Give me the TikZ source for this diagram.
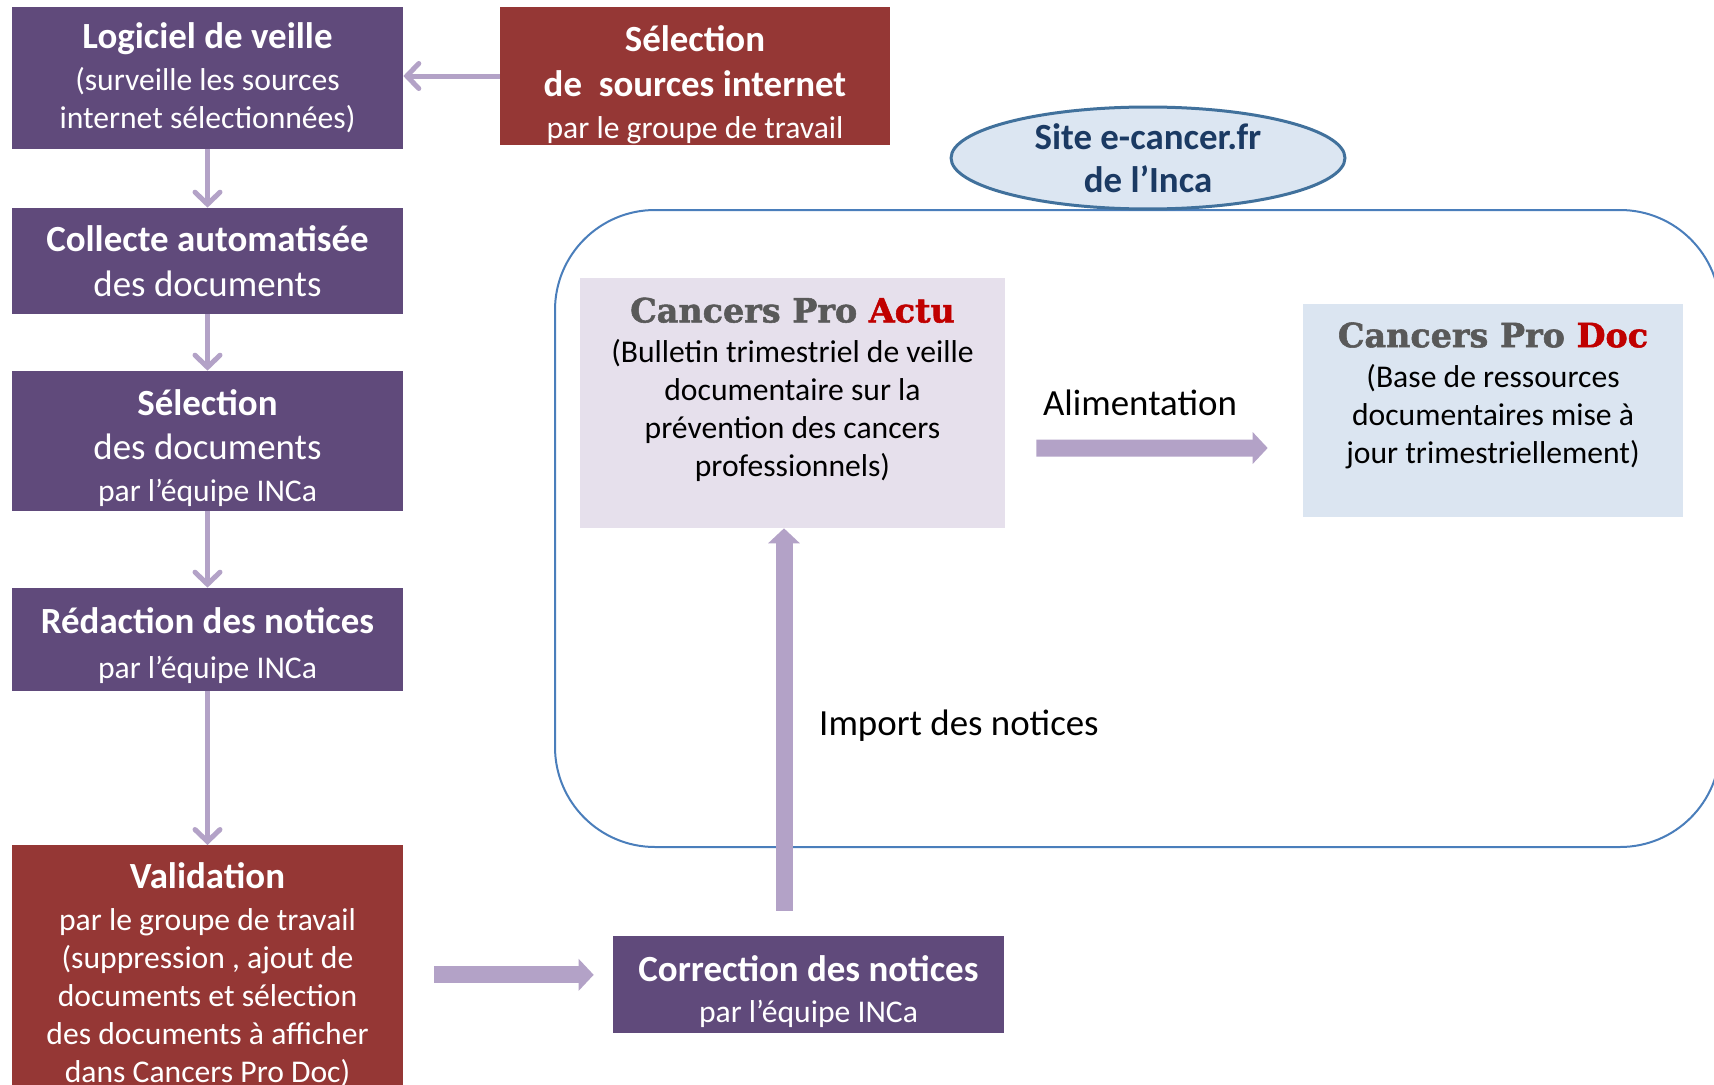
\documentclass[tikz,border=0pt]{standalone}
\usepackage{fontspec}
\setmainfont{Carlito}
\newfontfamily\slabfont{DejaVu Serif}[BoldFeatures={FakeBold=1.6}]
\usetikzlibrary{arrows.meta,shapes.geometric}

\definecolor{boxpurple}{HTML}{604A7B}
\definecolor{boxred}{HTML}{953735}
\definecolor{arrowlilac}{HTML}{B3A2C7}
\definecolor{actufill}{HTML}{E6E0EC}
\definecolor{docfill}{HTML}{DBE5F1}
\definecolor{ellipsefill}{HTML}{DCE6F2}
\definecolor{ellipseline}{HTML}{41719C}
\definecolor{frameline}{HTML}{4A7EBB}
\definecolor{sitetext}{HTML}{1B3A63}
\definecolor{progray}{HTML}{595959}
\definecolor{prored}{HTML}{C00000}

\newcommand{\titlesize}{\fontsize{21}{25.5}\selectfont}
\newcommand{\notesize}{\fontsize{18}{21.6}\selectfont}
\newcommand{\cancerspro}[1]{{\slabfont\bfseries\fontsize{19}{23}\selectfont\color{progray}Cancers Pro \color{prored}#1}}

\begin{document}
\begin{tikzpicture}[x=0.02cm, y=-0.02cm,
    flowbox/.style={fill=boxpurple, text=white, align=center, inner sep=0pt,
      minimum width=7.82cm, font=\notesize},
    redbox/.style={flowbox, fill=boxred},
    boxtext/.style={text=white, align=center, font=\notesize, inner sep=0pt},
    paperbox/.style={inner sep=0pt},
    paperText/.style={align=center, font=\notesize, inner sep=0pt},
    thinarrow/.style={draw=arrowlilac, line width=0.1cm,
      -{Straight Barb[width=0.5cm, length=0.24cm, line cap=round]}},
    widearrow/.style={draw=arrowlilac, line width=0.34cm,
      -{Triangle[width=0.62cm, length=0.3cm]}}]
  \fill[white] (0,0) rectangle (1714,1085);
  \useasboundingbox (0,0) rectangle (1714,1085);

  % Site frame
  \draw[draw=frameline, line width=0.04cm, rounded corners=2cm] (555,210) rectangle (1720,847);
  \node[ellipse, draw=ellipseline, line width=0.06cm, fill=ellipsefill, minimum width=7.88cm,
    minimum height=2.04cm, inner sep=0pt, text=sitetext, align=center,
    font=\titlesize\bfseries] (site) at (1148,158) {Site e-cancer.fr\\[-1pt] de l’Inca};

  % Left column
  \node[flowbox, minimum height=2.84cm] (logiciel) at (207.5,78)
    {{\titlesize\bfseries Logiciel de veille}\\[2.2pt] (surveille les sources\\ internet sélectionnées)};
  \node[redbox, minimum width=7.8cm, minimum height=2.76cm] (selsrc) at (695,76) {};
  \node[boxtext] (selsrctext) at ([shift={(0,9)}]selsrc.center)
    {{\titlesize\bfseries Sélection}\\[3.9pt] {\titlesize\bfseries de~~sources internet}\\[2.2pt] par le groupe de travail};
  \node[flowbox, minimum height=2.12cm] (collecte) at (207.5,261)
    {{\titlesize\bfseries Collecte automatisée}\\[3.9pt] {\titlesize des documents}};
  \node[flowbox, minimum height=2.8cm] (seldoc) at (207.5,441) {};
  \node[boxtext] (seldoctext) at ([shift={(0,7)}]seldoc.center)
    {{\titlesize\bfseries Sélection}\\[3.9pt] {\titlesize des documents}\\[2.2pt] par l’équipe INCa};
  \node[flowbox, minimum height=2.06cm] (redaction) at (207.5,639.5) {};
  \node[boxtext] (redactiontext) at ([shift={(0,6)}]redaction.center)
    {{\titlesize\bfseries Rédaction des notices}\\[4.4pt] par l’équipe INCa};
  \node[redbox, minimum height=5.18cm, anchor=north] (validation) at (207.5,845)
    {{\titlesize\bfseries Validation}\\[2.2pt] par le groupe de travail\\ (suppression , ajout de\\
     documents et sélection\\ des documents à afficher\\ dans Cancers Pro Doc)};
  \node[flowbox, minimum height=1.94cm] (correction) at (808.5,984.5) {};
  \node[boxtext] (correctiontext) at ([shift={(0,7)}]correction.center)
    {{\titlesize\bfseries Correction des notices}\\[1.9pt] par l’équipe INCa};

  % Cancers Pro boxes
  \node[paperbox, fill=actufill, minimum width=8.5cm, minimum height=5cm] (actu) at (792.5,403) {};
  \node[paperText] (actutext) at ([shift={(0,-13.5)}]actu.center)
    {\cancerspro{Actu}\\[1.2pt] (Bulletin trimestriel de veille\\ documentaire sur la\\
     prévention des cancers\\ professionnels)};
  \node[paperbox, fill=docfill, minimum width=7.6cm, minimum height=4.26cm] (doc) at (1493,410.5) {};
  \node[paperText] (doctext) at ([shift={(0,-15)}]doc.center)
    {\cancerspro{Doc}\\[1.2pt] (Base de ressources\\ documentaires mise à\\ jour trimestriellement)};

  \node[font=\titlesize] (alimlabel) at (1140,403) {Alimentation};
  \node[font=\titlesize, anchor=west] (importlabel) at (813,726) {Import des notices};

  % Arrows
  \draw[thinarrow] (selsrc.west) -- (selsrc.west -| logiciel.east);
  \draw[thinarrow] (logiciel.south) -- (collecte.north);
  \draw[thinarrow] (collecte.south) -- (seldoc.north);
  \draw[thinarrow] (seldoc.south) -- (redaction.north);
  \draw[thinarrow] (redaction.south) -- (validation.north);
  \draw[widearrow, shorten <=0.62cm, shorten >=0.38cm] (validation.east) -- (validation.east -| correction.west);
  \draw[widearrow] ([shift={(31,45)}]actu.east) -- ([shift={(-35,37.5)}]doc.west);
  \draw[widearrow] ([shift={(-24.5,-25)}]correction.north) -- ([shift={(-8.5,0)}]actu.south);
\end{tikzpicture}
\end{document}
